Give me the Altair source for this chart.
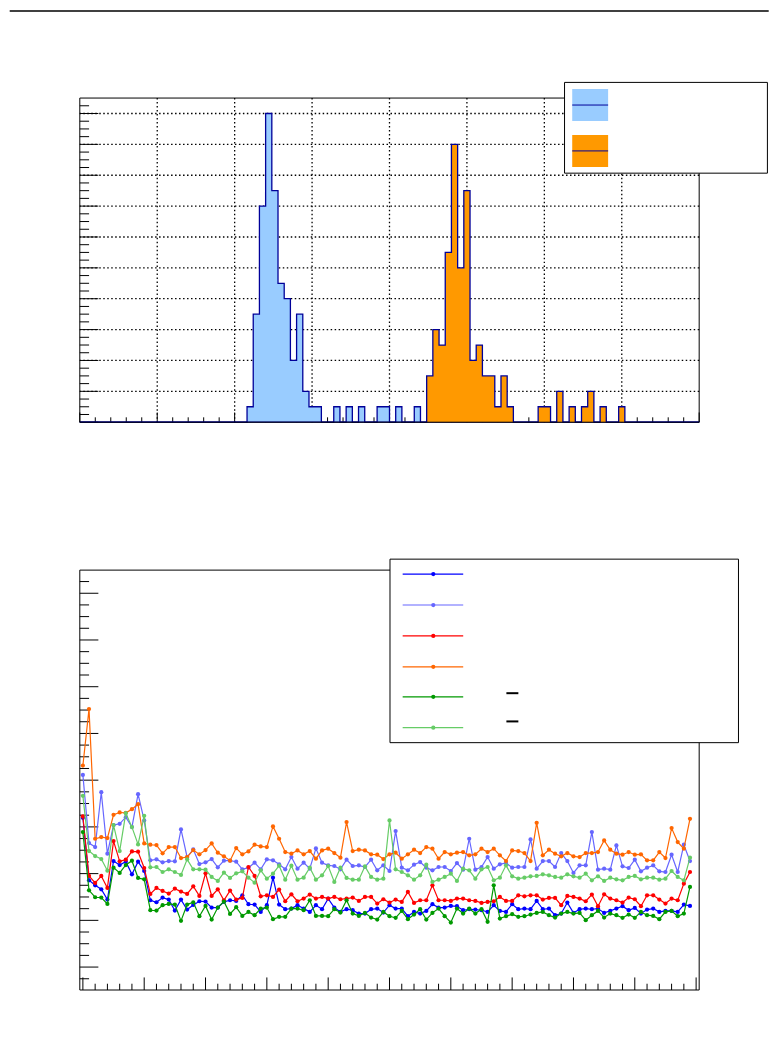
import altair as alt
import pandas as pd
import numpy as np

W = 621
H_TOP = 325
H_BOT = 421

# ---------------- top panel: two histograms (100 bins on 0..8) ----------------
BIN_W = 0.08
blue_counts = [0] * 27 + [0.5, 3.5, 7, 10, 7.5, 4.5, 4, 2, 3.5, 1, 0.5, 0.5, 0, 0,
                          0.5, 0, 0.5, 0, 0.5, 0, 0, 0.5, 0.5, 0, 0.5, 0, 0, 0.5] + [0] * 45
orange_counts = [0] * 56 + [1.5, 3, 2.5, 5.5, 9, 5, 7.5, 2, 2.5, 1.5, 1.5, 0.5, 1.5, 0.5,
                            0, 0, 0, 0, 0.5, 0.5, 0, 1, 0, 0.5, 0, 0.5, 1, 0, 0.5, 0, 0, 0.5] + [0] * 12

top_x_major = [0, 1, 2, 3, 4, 5, 6, 7, 8]
top_x_grid = [1, 2, 3, 4, 5, 6, 7]
top_x_minor = [i * 0.2 for i in range(41) if i % 5]
top_y_major = [0, 1, 2, 3, 4, 5, 6, 7, 8, 9, 10]
top_y_grid = [1, 2, 3, 4, 5, 6, 7, 8, 9, 10]
top_y_minor = [i * 0.25 for i in range(42) if i % 4]

# ---------------- bottom panel: six series of 100 points ----------------
s_blue = [518, 330, 315, 303, 272, 388, 376, 386, 348, 386,
          358, 270, 264, 278, 272, 239, 272, 242, 256, 267,
          266, 248, 248, 265, 270, 268, 285, 258, 257, 235,
          255, 338, 257, 243, 245, 255, 245, 235, 255, 243,
          275, 248, 235, 243, 240, 230, 230, 243, 245, 233,
          255, 245, 245, 222, 235, 230, 238, 258, 248, 248,
          253, 252, 240, 243, 242, 240, 235, 255, 238, 235,
          258, 243, 245, 243, 268, 243, 245, 225, 230, 263,
          232, 243, 245, 243, 245, 232, 238, 245, 252, 240,
          247, 230, 242, 245, 235, 238, 238, 235, 257, 253]
s_lblue = [647, 442, 430, 595, 410, 496, 500, 520, 490, 589,
           510, 390, 393, 384, 388, 387, 483, 400, 423, 379,
           384, 394, 369, 389, 389, 386, 363, 368, 383, 363,
           393, 390, 378, 363, 400, 365, 383, 365, 426, 383,
           375, 373, 363, 392, 373, 375, 370, 392, 360, 375,
           358, 478, 368, 360, 377, 385, 368, 360, 370, 370,
           358, 382, 362, 455, 362, 370, 400, 365, 378, 382,
           368, 370, 370, 453, 365, 388, 388, 370, 412, 388,
           352, 375, 375, 475, 362, 365, 362, 435, 372, 367,
           392, 357, 368, 375, 357, 355, 407, 355, 437, 388]
s_red = [522, 343, 322, 343, 307, 448, 387, 392, 417, 416,
         367, 289, 307, 298, 290, 305, 296, 289, 312, 283,
         351, 283, 303, 270, 299, 272, 277, 370, 343, 282,
         285, 280, 302, 267, 288, 267, 275, 287, 275, 280,
         275, 280, 273, 275, 278, 268, 280, 280, 260, 273,
         263, 272, 265, 295, 262, 270, 270, 315, 270, 270,
         268, 275, 275, 270, 268, 262, 265, 267, 280, 268,
         268, 285, 282, 285, 285, 272, 277, 277, 255, 283,
         280, 275, 267, 287, 252, 288, 275, 270, 263, 278,
         273, 252, 285, 285, 272, 260, 275, 270, 320, 355]
s_orange = [675, 845, 455, 460, 457, 527, 534, 533, 544, 559,
            441, 437, 436, 411, 430, 430, 397, 400, 421, 408,
            421, 441, 413, 402, 389, 427, 408, 417, 437, 432,
            430, 492, 455, 415, 410, 420, 408, 418, 395, 420,
            425, 412, 398, 505, 418, 422, 420, 408, 407, 394,
            408, 413, 395, 408, 422, 412, 430, 425, 395, 415,
            408, 413, 415, 405, 408, 425, 415, 425, 405, 388,
            420, 418, 412, 388, 503, 405, 422, 410, 402, 412,
            402, 400, 412, 412, 415, 450, 422, 410, 407, 415,
            407, 408, 390, 390, 415, 397, 487, 445, 425, 515]
s_green = [475, 300, 279, 278, 259, 368, 352, 376, 389, 337,
           333, 240, 239, 255, 259, 257, 208, 257, 264, 222,
           253, 212, 248, 266, 229, 249, 223, 235, 225, 245,
           248, 213, 220, 220, 245, 245, 240, 270, 223, 223,
           222, 243, 233, 270, 230, 223, 232, 218, 212, 235,
           222, 217, 238, 213, 227, 243, 212, 232, 245, 222,
           203, 245, 230, 245, 230, 243, 205, 315, 215, 222,
           228, 220, 222, 227, 232, 235, 225, 218, 230, 235,
           230, 232, 210, 225, 238, 218, 230, 225, 217, 227,
           217, 235, 225, 223, 213, 235, 238, 222, 230, 310]
s_lgreen = [584, 418, 403, 394, 359, 496, 418, 532, 490, 438,
            524, 369, 370, 355, 363, 355, 346, 393, 363, 363,
            362, 340, 328, 353, 337, 351, 357, 338, 323, 360,
            335, 350, 374, 332, 374, 332, 338, 368, 332, 345,
            373, 325, 368, 337, 332, 332, 372, 340, 332, 335,
            510, 363, 355, 345, 332, 345, 377, 325, 332, 340,
            350, 328, 365, 360, 335, 363, 370, 330, 338, 375,
            342, 335, 338, 342, 343, 348, 345, 340, 338, 348,
            342, 338, 350, 330, 342, 328, 338, 333, 330, 340,
            343, 333, 338, 338, 332, 335, 358, 340, 330, 398]

series_names = ["s1", "s2", "s3", "s4", "s5", "s6"]
series_values = [s_blue, s_lblue, s_red, s_orange, s_green, s_lgreen]
series_colors = ["#0000ff", "#6666ff", "#ff0000", "#ff6600", "#009900", "#66cc66"]

bot_x_major = list(range(0, 101, 10))
bot_x_minor = [v for v in range(0, 101, 2) if v % 10]
bot_y_major = [69 + 140.55 * k for k in range(9)]
bot_y_minor = [69 + 35.14 * k for k in range(-1, 34) if k % 4]

# ---------------- scales ----------------
tx = alt.Scale(domain=[0, 8], nice=False, zero=False)
ty = alt.Scale(domain=[0, 10.5], nice=False, zero=False)
bx = alt.Scale(domain=[-0.5, 100.5], nice=False, zero=False)
by = alt.Scale(domain=[0, 1263], nice=False, zero=False)

one = pd.DataFrame({"d": [0]})


def vals(lst):
    return pd.DataFrame({"v": lst})


def step_frame(counts):
    edges = np.arange(len(counts) + 1) * BIN_W
    return pd.DataFrame({"x": edges, "c": list(counts) + [counts[-1]]})


NAVY = "#000099"
GRID_DASH = [1.5, 2.5]

# ---------------- top panel layers ----------------
t_layers = []
t_layers.append(alt.Chart(vals(top_x_grid)).mark_rule(color="black", strokeWidth=1.3, strokeDash=GRID_DASH)
                .encode(x=alt.X("v:Q", scale=tx, axis=None)))
t_layers.append(alt.Chart(vals(top_y_grid)).mark_rule(color="black", strokeWidth=1.3, strokeDash=GRID_DASH)
                .encode(y=alt.Y("v:Q", scale=ty, axis=None)))
t_layers.append(alt.Chart(vals(top_y_major)).mark_rule(color="black", strokeWidth=1)
                .encode(y=alt.Y("v:Q", scale=ty, axis=None), x=alt.value(0), x2=alt.value(18.6)))
t_layers.append(alt.Chart(vals(top_y_minor)).mark_rule(color="black", strokeWidth=1)
                .encode(y=alt.Y("v:Q", scale=ty, axis=None), x=alt.value(0), x2=alt.value(9.3)))
t_layers.append(alt.Chart(vals(top_x_major)).mark_rule(color="black", strokeWidth=1)
                .encode(x=alt.X("v:Q", scale=tx, axis=None), y=alt.value(H_TOP), y2=alt.value(H_TOP - 9.75)))
t_layers.append(alt.Chart(vals(top_x_minor)).mark_rule(color="black", strokeWidth=1)
                .encode(x=alt.X("v:Q", scale=tx, axis=None), y=alt.value(H_TOP), y2=alt.value(H_TOP - 4.9)))
for counts, fill in [(blue_counts, "#99ccff"), (orange_counts, "#ff9900")]:
    df = step_frame(counts)
    t_layers.append(alt.Chart(df).mark_area(interpolate="step-after", color=fill, opacity=1)
                    .encode(x=alt.X("x:Q", scale=tx, axis=None), y=alt.Y("c:Q", scale=ty, axis=None)))
    t_layers.append(alt.Chart(df).mark_line(interpolate="step-after", color=NAVY, strokeWidth=1.3)
                    .encode(x=alt.X("x:Q", scale=tx, axis=None), y=alt.Y("c:Q", scale=ty, axis=None)))
# frame
t_layers.append(alt.Chart(one).mark_rect(fillOpacity=0, stroke="black", strokeWidth=1)
                .encode(x=alt.value(0), x2=alt.value(W), y=alt.value(0), y2=alt.value(H_TOP)))
# legend box
t_layers.append(alt.Chart(one).mark_rect(fill="white", stroke="black", strokeWidth=1)
                .encode(x=alt.value(486), x2=alt.value(689.4), y=alt.value(-15.7), y2=alt.value(75.3)))
for (y0, y1, ym, fill) in [(-9, 23, 7, "#99ccff"), (37, 69, 53, "#ff9900")]:
    t_layers.append(alt.Chart(one).mark_rect(fill=fill)
                    .encode(x=alt.value(493.7), x2=alt.value(529.7), y=alt.value(y0), y2=alt.value(y1)))
    t_layers.append(alt.Chart(one).mark_rule(color=NAVY, strokeWidth=1)
                    .encode(x=alt.value(493.7), x2=alt.value(529.7), y=alt.value(ym)))
# page top line
t_layers.append(alt.Chart(one).mark_rule(color="black", strokeWidth=1.5)
                .encode(x=alt.value(-70.3), x2=alt.value(690.7), y=alt.value(-87.25)))

top = alt.layer(*t_layers).properties(width=W, height=H_TOP)

# ---------------- bottom panel layers ----------------
b_layers = []
b_layers.append(alt.Chart(vals(bot_y_major)).mark_rule(color="black", strokeWidth=1)
                .encode(y=alt.Y("v:Q", scale=by, axis=None), x=alt.value(0), x2=alt.value(18.6)))
b_layers.append(alt.Chart(vals(bot_y_minor)).mark_rule(color="black", strokeWidth=1)
                .encode(y=alt.Y("v:Q", scale=by, axis=None), x=alt.value(0), x2=alt.value(9.3)))
b_layers.append(alt.Chart(vals(bot_x_major)).mark_rule(color="black", strokeWidth=1)
                .encode(x=alt.X("v:Q", scale=bx, axis=None), y=alt.value(H_BOT), y2=alt.value(H_BOT - 12.6)))
b_layers.append(alt.Chart(vals(bot_x_minor)).mark_rule(color="black", strokeWidth=1)
                .encode(x=alt.X("v:Q", scale=bx, axis=None), y=alt.value(H_BOT), y2=alt.value(H_BOT - 6.3)))
for name, values, col in zip(series_names, series_values, series_colors):
    df = pd.DataFrame({"i": list(range(len(values))), "v": values})
    b_layers.append(alt.Chart(df).mark_line(color=col, strokeWidth=1.2)
                    .encode(x=alt.X("i:Q", scale=bx, axis=None), y=alt.Y("v:Q", scale=by, axis=None)))
    b_layers.append(alt.Chart(df).mark_circle(color=col, size=18, opacity=1)
                    .encode(x=alt.X("i:Q", scale=bx, axis=None), y=alt.Y("v:Q", scale=by, axis=None)))
b_layers.append(alt.Chart(one).mark_rect(fillOpacity=0, stroke="black", strokeWidth=1)
                .encode(x=alt.value(0), x2=alt.value(W), y=alt.value(0), y2=alt.value(H_BOT)))
# legend
b_layers.append(alt.Chart(one).mark_rect(fill="white", stroke="black", strokeWidth=1)
                .encode(x=alt.value(311), x2=alt.value(660.4), y=alt.value(-11), y2=alt.value(173)))
legend_rows = [4, 35, 66, 97, 127, 158]
for ly, col in zip(legend_rows, series_colors):
    b_layers.append(alt.Chart(one).mark_rule(color=col, strokeWidth=1.2)
                    .encode(x=alt.value(323.7), x2=alt.value(384.4), y=alt.value(ly)))
    b_layers.append(alt.Chart(one).mark_circle(color=col, size=18, opacity=1)
                    .encode(x=alt.value(354.4), y=alt.value(ly)))
for oy in [123.4, 151.7]:
    b_layers.append(alt.Chart(one).mark_rule(color="black", strokeWidth=2)
                    .encode(x=alt.value(427.7), x2=alt.value(439.7), y=alt.value(oy)))

bottom = alt.layer(*b_layers).properties(width=W, height=H_BOT)

chart = (
    alt.vconcat(top, bottom, spacing=148.3, bounds="flush")
    .properties(padding={"left": 0, "top": 0, "right": 0, "bottom": 0})
    .configure_view(stroke="transparent")
)

chart.save("out.html", embed_options={"renderer": "svg", "actions": False})
